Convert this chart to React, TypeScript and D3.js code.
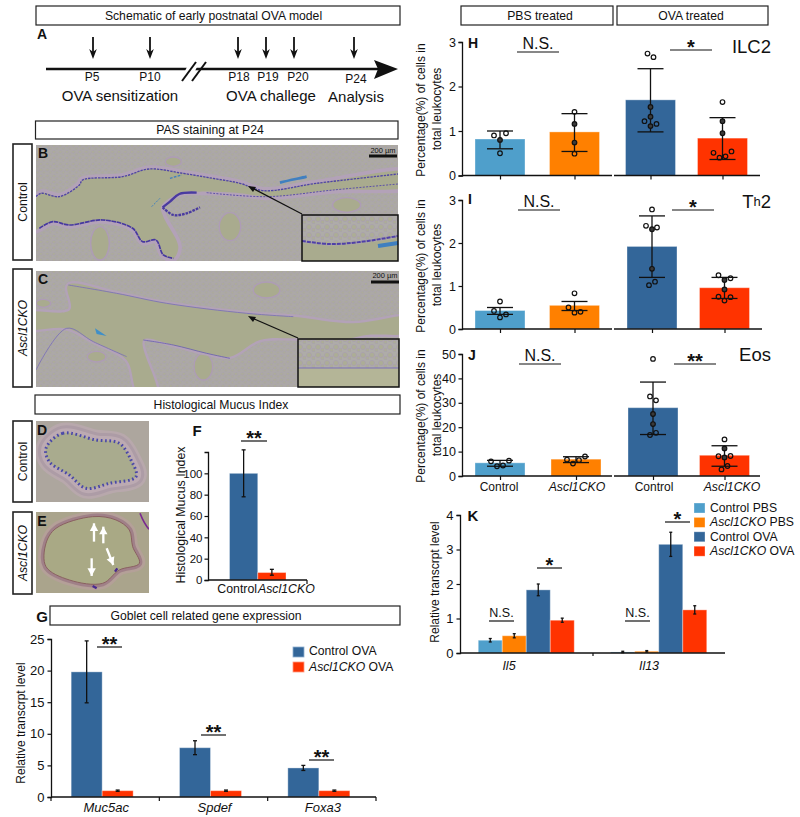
import React, { useEffect, useRef } from 'react';
import * as d3 from 'd3';

const FONT = '"Liberation Sans", Arial, sans-serif';
const LIGHT_BLUE = '#4f9fcb';
const ORANGE = '#ff8000';
const BLUE = '#336699';
const RED = '#ff3300';

// A: timeline
const arrowDays = [93, 150, 238, 266, 294, 354];
const dayLabels = ['P5', 'P10', 'P18', 'P19', 'P20', 'P24'];
const dayLabelX = [92, 150, 239, 268, 298, 356];

// F: mucus index
const mucusGroups = ['Control', 'Ascl1CKO'];
const mucusMeans = [100, 7];
const mucusLow = [78, 4.5];
const mucusHigh = [122, 10];

// G: goblet genes
const gobletGenes = ['Muc5ac', 'Spdef', 'Foxa3'];
const gobletControl = [19.8, 7.8, 4.6];
const gobletControlErr = [4.9, 1.1, 0.4];
const gobletCko = [1, 1, 1];
const gobletCkoErr = [0.1, 0.1, 0.1];

// H, I, J: dot panels
const treatGroups = ['Control PBS', 'Ascl1CKO PBS', 'Control OVA', 'Ascl1CKO OVA'];
const treatColors = [LIGHT_BLUE, ORANGE, BLUE, RED];

const ilc2Means = [0.82, 0.98, 1.7, 0.84];
const ilc2Low = [0.6, 0.54, 0.98, 0.36];
const ilc2High = [1.0, 1.39, 2.4, 1.3];
const ilc2Points = [
  [0.9, 0.95, 0.8, 0.5],
  [1.43, 1.16, 0.74, 0.49],
  [2.74, 2.66, 1.54, 1.32, 1.22, 1.16, 1.11],
  [1.65, 1.22, 0.95, 0.51, 0.4, 0.43, 0.54],
];
const ilc2Jitter = [
  [-6, 6, 0, 0],
  [0, 0, 0, 0],
  [-3, 3, 0, 0, -6, 6, 0],
  [0, 0, 0, -9, -3, 3, 9],
];

const th2Means = [0.43, 0.55, 1.92, 0.96];
const th2Low = [0.34, 0.43, 1.2, 0.71];
const th2High = [0.5, 0.64, 2.63, 1.2];
const th2Points = [
  [0.64, 0.42, 0.34, 0.27],
  [0.83, 0.5, 0.4, 0.38],
  [2.78, 2.4, 2.36, 2.32, 1.4, 1.1, 1.02],
  [1.25, 1.18, 1.14, 0.92, 0.75, 0.74, 0.66],
];
const th2Jitter = [
  [0, -6, 6, 0],
  [0, -6, 6, 0],
  [0, -6, 5, 0, 0, 3, -3],
  [-6, 6, 0, 0, -6, 6, 0],
];

const eosMeans = [5.4, 6.9, 28, 8.5];
const eosLow = [4, 5.5, 17, 4];
const eosHigh = [6.4, 7.9, 38.5, 12.4];
const eosPoints = [
  [6, 6.3, 4, 4.3],
  [6.7, 8, 5.1, 6.5],
  [48, 32.6, 31, 25.4, 21.3, 16.8, 17.7],
  [15, 11.3, 8.1, 7.6, 8.2, 4.1, 2.7],
];
const eosJitter = [
  [-9, 9, -3, 3],
  [-9, 9, -3, 3],
  [0, -3, 3, 0, 0, -3, 3],
  [0, 0, -6, 0, 6, 3, -3],
];

// K: cytokines
const cytokines = ['Il5', 'Il13'];
const cytokineMeans = [
  [0.37, 0.5, 1.83, 0.95],
  [0.03, 0.05, 3.15, 1.25],
];
const cytokineErr = [
  [0.05, 0.06, 0.17, 0.06],
  [0.02, 0.02, 0.35, 0.12],
];

const curve = d3.line().curve(d3.curveCatmullRom.alpha(0.5));
const closed = d3.line().curve(d3.curveCatmullRomClosed.alpha(0.5));

function T({ x, y, size = 12, anchor = 'middle', weight, italic, rotate, children, fill = '#111' }: any) {
  return (
    <text
      x={rotate ? 0 : x}
      y={rotate ? 0 : y}
      transform={rotate ? `translate(${x},${y}) rotate(${rotate})` : undefined}
      fontSize={size}
      fontFamily={FONT}
      textAnchor={anchor}
      dominantBaseline="central"
      fontWeight={weight}
      fontStyle={italic ? 'italic' : undefined}
      fill={fill}
    >
      {children}
    </text>
  );
}

function Box({ x, y, w, h, children, size = 12.2, cx }: any) {
  return (
    <g>
      <rect x={x} y={y} width={w} height={h} fill="#fff" stroke="#222" strokeWidth={1.2} />
      <T x={cx ?? x + w / 2} y={y + h / 2} size={size}>{children}</T>
    </g>
  );
}

function SideBox({ x, y, w, h, italic, children }: any) {
  return (
    <g>
      <rect x={x} y={y} width={w} height={h} fill="#fff" stroke="#222" strokeWidth={1.6} />
      <T x={x + w / 2} y={y + h / 2} size={12.2} rotate={-90} italic={italic}>{children}</T>
    </g>
  );
}

function LeftAxis({ x, scale, ticks, size = 13, pad = 3 }: any) {
  const ref = useRef<SVGGElement>(null);
  useEffect(() => {
    const g = d3.select(ref.current);
    g.call(d3.axisLeft(scale).tickValues(ticks).tickSize(3.5).tickPadding(pad).tickFormat(d3.format('d')));
    g.selectAll('path').attr('stroke', '#111').attr('stroke-width', 1.3);
    g.selectAll('line').attr('stroke', '#111').attr('stroke-width', 1.2);
    g.selectAll('text').attr('font-size', size).attr('font-family', FONT).attr('fill', '#111');
  }, []);
  return <g ref={ref} transform={`translate(${x},0)`} />;
}

function BottomTicks({ y, scale, keys, size }: any) {
  const ref = useRef<SVGGElement>(null);
  useEffect(() => {
    const g = d3.select(ref.current);
    g.call(d3.axisBottom(scale).tickValues(keys).tickSize(size).tickFormat(() => ''));
    g.select('.domain').remove();
    g.selectAll('line').attr('stroke', '#111').attr('stroke-width', 1.2);
  }, []);
  return <g ref={ref} transform={`translate(0,${y})`} />;
}

function ErrBar({ x, y0, y1, cap, w = 1.3 }: any) {
  return (
    <g stroke="#111" strokeWidth={w} fill="none">
      <line x1={x} x2={x} y1={y0} y2={y1} />
      <line x1={x - cap} x2={x + cap} y1={y0} y2={y0} />
      <line x1={x - cap} x2={x + cap} y1={y1} y2={y1} />
    </g>
  );
}

function Sig({ x0, x1, y, label, size = 14, dy = -7 }: any) {
  const star = label.startsWith('*');
  return (
    <g>
      <line x1={x0} x2={x1} y1={y} y2={y} stroke="#111" strokeWidth={1.2} />
      <T x={(x0 + x1) / 2} y={y + (star ? dy + 2 : dy - 2)} size={star ? 20 : size} weight={star ? 'bold' : undefined}>{label}</T>
    </g>
  );
}

function Bar({ x, w, y0, y1, fill }: any) {
  return <rect x={x} y={y1} width={w} height={y0 - y1} fill={fill} stroke="#fff" strokeOpacity={0.35} strokeWidth={1} />;
}

function DotPanel({ top, bottom, max, ticks, centers, means, low, high, points, jitter, letter, letterY, title, titleY, ns, nsY, sig, sigLabel, sigY, line1Y, line2Y, axisRight }: any) {
  const y = d3.scaleLinear().domain([0, max]).range([bottom, top]);
  const x = d3.scaleOrdinal<string, number>().domain(treatGroups).range(centers);
  const barW = 50;
  return (
    <g>
      {treatGroups.map((g, i) => (
        <Bar key={g} x={x(g) - barW / 2} w={barW} y0={y(0)} y1={y(means[i])} fill={treatColors[i]} />
      ))}
      {treatGroups.map((g, i) => (
        <ErrBar key={g} x={x(g)} y0={y(low[i])} y1={y(high[i])} cap={13} />
      ))}
      {treatGroups.map((g, i) =>
        points[i].map((v: number, j: number) => {
          const onLine = jitter[i][j] === 0 && v < high[i] && v > low[i];
          return (
            <circle key={g + j} cx={x(g) + jitter[i][j]} cy={y(v)} r={2.3}
              fill={onLine ? '#3a3a3a' : 'none'} stroke="#111" strokeWidth={1.2} />
          );
        }),
      )}
      <LeftAxis x={462} scale={y} ticks={ticks} size={12.5} pad={2.5} />
      <line x1={462} x2={612} y1={bottom} y2={bottom} stroke="#111" strokeWidth={1.3} />
      <line x1={614} x2={axisRight} y1={bottom} y2={bottom} stroke="#111" strokeWidth={1.3} />
      <BottomTicks y={bottom} scale={x} keys={treatGroups} size={4} />
      <T x={468} y={letterY} size={14} weight="bold" anchor="start">{letter}</T>
      <T x={771} y={titleY} size={18.5} anchor="end">{title}</T>
      <Sig x0={ns} x1={ns + 42} y={nsY} label="N.S." size={16} dy={-7} />
      <Sig x0={sig} x1={sig + 42} y={sigY} label={sigLabel} dy={-5} />
      <T x={421} y={line1Y} size={12} rotate={-90}>Percentage(%) of cells in</T>
      <T x={436.5} y={line2Y} size={12} rotate={-90}>total leukocytes</T>
    </g>
  );
}

function FigF() {
  const y = d3.scaleLinear().domain([0, 120]).range([580, 452]);
  const x = d3.scaleBand().domain(mucusGroups).range([229.5, 286]);
  const w = x.bandwidth();
  return (
    <g>
      {mucusGroups.map((g, i) => (
        <Bar key={g} x={x(g)} w={w} y0={y(0)} y1={y(mucusMeans[i])} fill={i ? RED : BLUE} />
      ))}
      {mucusGroups.map((g, i) => (
        <ErrBar key={g} x={x(g) + w / 2} y0={y(mucusLow[i])} y1={y(mucusHigh[i])} cap={2} />
      ))}
      <LeftAxis x={208} scale={y} ticks={[0, 20, 40, 60, 80, 100]} size={11.5} pad={2} />
      <line x1={208} x2={307} y1={580} y2={580} stroke="#111" strokeWidth={1.3} />
      <line x1={307} x2={307} y1={580} y2={584} stroke="#111" strokeWidth={1.2} />
      <T x={257} y={589} size={12.3} anchor="end">Control</T>
      <T x={258} y={589} size={12.3} anchor="start" italic>Ascl1CKO</T>
      <T x={181} y={515} size={12.4} rotate={-90}>Histological Mucus Index</T>
      <T x={197} y={430} size={15} weight="bold">F</T>
      <Sig x0={241} x1={267} y={441} label="**" dy={-5} />
    </g>
  );
}

function FigG() {
  const y = d3.scaleLinear().domain([0, 25]).range([797, 639]);
  const x = d3.scaleBand().domain(gobletGenes).range([51, 376]);
  const inner = d3.scaleBand().domain(['control', 'cko']).range([-31, 31]);
  const w = inner.bandwidth();
  const mid = (g: string) => x(g) + x.bandwidth() / 2 - 3;
  return (
    <g>
      {gobletGenes.map((g, i) => (
        <g key={g}>
          <Bar x={mid(g) + inner('control')} w={w} y0={y(0)} y1={y(gobletControl[i])} fill={BLUE} />
          <Bar x={mid(g) + inner('cko')} w={w} y0={y(0)} y1={y(gobletCko[i])} fill={RED} />
          <ErrBar x={mid(g) + inner('control') + w / 2} y0={y(gobletControl[i] - gobletControlErr[i])} y1={y(gobletControl[i] + gobletControlErr[i])} cap={2} />
          <ErrBar x={mid(g) + inner('cko') + w / 2} y0={y(gobletCko[i] - gobletCkoErr[i])} y1={y(gobletCko[i] + gobletCkoErr[i])} cap={2} />
          <T x={mid(g) + 4} y={807} size={13} italic>{g}</T>
        </g>
      ))}
      <LeftAxis x={51} scale={y} ticks={[0, 5, 10, 15, 20, 25]} size={13} />
      <line x1={51} x2={376} y1={797} y2={797} stroke="#111" strokeWidth={1.3} />
      {[...gobletGenes.map((g) => x(g)), 376].map((t) => (
        <line key={t} x1={t} x2={t} y1={797} y2={801} stroke="#111" strokeWidth={1.2} />
      ))}
      <T x={21} y={723} size={12} rotate={-90}>Relative transcrpt level</T>
      <Sig x0={97} x1={122} y={647} label="**" dy={-5} />
      <Sig x0={201} x1={226} y={735} label="**" dy={-5} />
      <Sig x0={309} x1={334} y={760} label="**" dy={-5} />
      <rect x={293} y={647} width={11} height={10} fill={BLUE} stroke="#8fb0d0" strokeWidth={0.8} />
      <rect x={293} y={662} width={11} height={10} fill={RED} stroke="#ff9a80" strokeWidth={0.8} />
      <T x={309} y={651} size={12.2} anchor="start">Control OVA</T>
      <text x={309} y={667} fontSize={12.2} fontFamily={FONT} dominantBaseline="central" fill="#111">
        <tspan fontStyle="italic">Ascl1CKO</tspan> OVA
      </text>
    </g>
  );
}

function FigK() {
  const y = d3.scaleLinear().domain([0, 4]).range([653, 515]);
  const x = d3.scaleBand().domain(cytokines).range([460, 725]);
  const inner = d3.scaleBand().domain(treatGroups).range([-48, 48]);
  const w = inner.bandwidth();
  return (
    <g>
      {cytokines.map((c, ci) =>
        treatGroups.map((g, i) => (
          <g key={c + g}>
            <Bar x={x(c) + x.bandwidth() / 2 + inner(g)} w={w} y0={y(0)} y1={y(cytokineMeans[ci][i])} fill={treatColors[i]} />
            <ErrBar x={x(c) + x.bandwidth() / 2 + inner(g) + w / 2}
              y0={y(cytokineMeans[ci][i] - cytokineErr[ci][i])}
              y1={y(cytokineMeans[ci][i] + cytokineErr[ci][i])} cap={1.5} />
          </g>
        )),
      )}
      <LeftAxis x={460} scale={y} ticks={[0, 1, 2, 3, 4]} size={13} />
      <line x1={460} x2={725} y1={653} y2={653} stroke="#111" strokeWidth={1.3} />
      <line x1={593} x2={593} y1={653} y2={656} stroke="#111" strokeWidth={1.2} />
      <T x={509} y={666} size={12.5} italic>{cytokines[0]}</T>
      <T x={649} y={666} size={12.5} italic>{cytokines[1]}</T>
      <T x={435} y={582} size={12} rotate={-90}>Relative transcrpt level</T>
      <T x={473} y={515} size={15} weight="bold">K</T>
      <Sig x0={489} x1={514} y={621} label="N.S." size={12.5} dy={-6} />
      <Sig x0={537} x1={562} y={568} label="*" dy={-5} />
      <Sig x0={625} x1={650} y={621} label="N.S." size={12.5} dy={-6} />
      <Sig x0={665} x1={690} y={522} label="*" dy={-5} />
      {treatGroups.map((g, i) => {
        const [a, b] = g.split(' ');
        const ly = 508 + i * 14.4;
        return (
          <g key={g}>
            <rect x={694} y={ly - 5} width={11} height={10} fill={treatColors[i]} stroke="#fff" strokeOpacity={0.4} strokeWidth={0.8} />
            <text x={710} y={ly} fontSize={12.2} fontFamily={FONT} dominantBaseline="central" fill="#111">
              <tspan fontStyle={a === 'Ascl1CKO' ? 'italic' : undefined}>{a}</tspan> {b}
            </text>
          </g>
        );
      })}
    </g>
  );
}

// micrograph outlines, traced in the 3x crop coordinates
const bLumen = [[90, 645], [123, 580], [178, 590], [238, 555], [248, 540], [368, 530], [448, 507], [548, 520], [638, 535], [720, 550], [790, 572], [950, 550], [1240, 518], [1240, 555], [1000, 570], [800, 590], [720, 580], [600, 575], [538, 580], [483, 620], [490, 650], [535, 740], [520, 775], [490, 765], [468, 720], [428, 725], [398, 685], [308, 660], [208, 675], [158, 665], [118, 685], [90, 695]];
const bUpper = [[108, 590], [123, 580], [178, 590], [238, 555], [248, 540], [368, 530], [448, 507], [548, 520], [638, 535], [720, 550], [790, 572], [950, 550], [1195, 522]];
const bLower = [[118, 685], [158, 665], [208, 675], [308, 660], [398, 685], [428, 725], [468, 720], [490, 765], [520, 775]];
const bMid = [[620, 578], [800, 590], [1000, 570], [1195, 552]];
const bFold = [[488, 622], [510, 605], [538, 582], [590, 578]];
const bFold2 = [[488, 622], [520, 645], [560, 640], [600, 622]];
const bVessels = [[690, 680, 32, 42], [1040, 615, 42, 22], [520, 485, 24, 14], [300, 730, 28, 50]];
const cLumen = [[205, 75], [350, 100], [500, 130], [740, 160], [880, 170], [1060, 190], [1240, 172], [1240, 215], [1100, 225], [1020, 240], [880, 235], [780, 240], [690, 290], [620, 280], [520, 255], [430, 240], [470, 400], [415, 400], [380, 300], [280, 245], [200, 205], [70, 205], [70, 160], [210, 150]];
const cUpper = [[205, 75], [350, 100], [500, 130], [740, 160], [880, 170]];
const cLower = [[108, 330], [200, 205], [280, 245], [380, 290]];
const cLower2 = [[430, 240], [520, 255], [620, 280], [690, 295]];
const cVessels = [[290, 290, 28, 16], [610, 320, 28, 40], [800, 90, 40, 24], [130, 130, 22, 12]];
const dLumen = [[138, 565], [188, 520], [288, 540], [358, 550], [393, 600], [408, 650], [328, 670], [258, 685], [208, 645], [148, 605]];
const eLumen = [[138, 850], [168, 805], [278, 770], [348, 780], [388, 810], [398, 860], [418, 910], [358, 930], [308, 970], [208, 960], [138, 920]];
const eArrows = [[282, 845, 282, 790], [310, 850, 310, 800], [320, 865, 340, 915], [275, 895, 275, 948]];

const OLIVE = '#a9ab8e';

function Micrographs() {
  return (
    <g>
      <defs>
        <pattern id="alv" width="6.5" height="6" patternUnits="userSpaceOnUse">
          <rect width="6.5" height="6" fill="#aca9a6" />
          <circle cx="1.8" cy="1.8" r="1.5" fill="#acad98" stroke="#a69cb4" strokeWidth="0.45" />
          <circle cx="5" cy="4.4" r="1.3" fill="#acad98" stroke="#a69cb4" strokeWidth="0.45" />
        </pattern>
        <pattern id="alv2" width="9" height="8" patternUnits="userSpaceOnUse">
          <rect width="9" height="8" fill="#aeaca8" />
          <circle cx="3" cy="3" r="2.6" fill="#acad96" stroke="#a698b6" strokeWidth="0.5" />
          <circle cx="7.5" cy="6" r="1.8" fill="#acad96" stroke="#a698b6" strokeWidth="0.5" />
        </pattern>
        <filter id="soft" x="0" y="0" width="1" height="1"><feGaussianBlur stdDeviation="0.4" /></filter>
        <clipPath id="clipB"><rect x={36} y={145} width={362} height={116} /></clipPath>
        <clipPath id="clipC"><rect x={36} y={271} width={363} height={116} /></clipPath>
        <clipPath id="clipD"><rect x={36} y={421} width={113} height={81} /></clipPath>
        <clipPath id="clipE"><rect x={36} y={512} width={113} height={81} /></clipPath>
      </defs>

      {/* B */}
      <g clipPath="url(#clipB)">
        <g filter="url(#soft)">
          <rect x={36} y={145} width={362} height={116} fill="url(#alv)" />
          <g transform="scale(0.3333)">
            {bVessels.map(([cx, cy, rx, ry]) => (
              <ellipse key={cx} cx={cx} cy={cy} rx={rx} ry={ry} fill={OLIVE} stroke="#ae9cb6" strokeWidth={4} />
            ))}
            <path d={closed(bLumen)} fill="none" stroke="#b3a2b8" strokeWidth={22} />
            <path d={closed(bLumen)} fill={OLIVE} />
            <path d={curve(bUpper)} fill="none" stroke="#4f44a4" strokeWidth={4} strokeDasharray="7 3" />
            <path d={curve(bLower)} fill="none" stroke="#4638a0" strokeWidth={5} strokeDasharray="14 2" />
            <path d={curve(bMid)} fill="none" stroke="#5b4fa8" strokeWidth={3} strokeDasharray="6 4" />
            <path d={curve(bFold)} fill="none" stroke="#4a3aa0" strokeWidth={7} />
            <path d={curve(bFold2)} fill="none" stroke="#4a3aa0" strokeWidth={7} strokeDasharray="8 3" />
            <path d="M840,548 C870,540 900,535 920,530" fill="none" stroke="#3f7fc0" strokeWidth={8} />
            <path d="M510,535 L545,525" fill="none" stroke="#3f7fc0" strokeWidth={4} strokeDasharray="8 4" />
            <path d="M455,620 L480,595" fill="none" stroke="#3f7fc0" strokeWidth={3} strokeDasharray="6 4" />
          </g>
        </g>
      </g>
      <T x={383} y={150} size={7.5}>200 µm</T>
      <line x1={369} x2={397} y1={156} y2={156} stroke="#111" strokeWidth={3} />
      <T x={43} y={153} size={14} weight="bold">B</T>
      <rect x={302} y={215} width={96} height={46} fill="url(#alv2)" />
      <path d="M302,243 L330,246 L360,244 L398,238 L398,261 L302,261 Z" fill={OLIVE} />
      <path d={curve([[302, 241], [330, 244], [360, 242], [398, 236]])} fill="none" stroke="#5040a8" strokeWidth={2} strokeDasharray="4 1" />
      <path d="M378,246 L398,243" stroke="#3f7fc0" strokeWidth={4} fill="none" />
      <rect x={302} y={215} width={96} height={46} fill="none" stroke="#111" strokeWidth={1.5} />
      <line x1={302} y1={214} x2={252} y2={188} stroke="#111" strokeWidth={1.2} />
      <path d="M248,186 L256,187 L253,192 Z" fill="#111" />

      {/* C */}
      <g clipPath="url(#clipC)">
        <g filter="url(#soft)">
          <rect x={36} y={271} width={363} height={116} fill="url(#alv)" />
          <g transform="translate(0,260) scale(0.3333)">
            {cVessels.map(([cx, cy, rx, ry]) => (
              <ellipse key={cx} cx={cx} cy={cy} rx={rx} ry={ry} fill={OLIVE} stroke="#ae9cb6" strokeWidth={4} />
            ))}
            <path d={closed(cLumen)} fill="none" stroke="#b3a2b8" strokeWidth={14} />
            <path d={closed(cLumen)} fill={OLIVE} />
            <path d={curve(cUpper)} fill="none" stroke="#7a6fb8" strokeWidth={2.5} />
            <path d={curve(cLower)} fill="none" stroke="#7a6fb8" strokeWidth={2.5} />
            <path d={curve(cLower2)} fill="none" stroke="#6a60b0" strokeWidth={2.5} />
            <path d="M285,205 L320,228 L290,222 Z" fill="#3f8fc8" />
          </g>
        </g>
      </g>
      <T x={385} y={275} size={7.5}>200 µm</T>
      <line x1={371} x2={399} y1={282} y2={282} stroke="#111" strokeWidth={3} />
      <T x={43} y={279} size={14} weight="bold">C</T>
      <rect x={298} y={339} width={101} height={48} fill="url(#alv2)" />
      <rect x={298} y={368} width={101} height={19} fill="#b4b597" />
      <line x1={298} x2={399} y1={368} y2={368} stroke="#7a70b8" strokeWidth={1.2} />
      <rect x={298} y={339} width={101} height={48} fill="none" stroke="#111" strokeWidth={1.5} />
      <line x1={298} y1={338} x2={252} y2={318} stroke="#111" strokeWidth={1.2} />
      <path d="M248,316 L256,317 L253,322 Z" fill="#111" />

      {/* D */}
      <g clipPath="url(#clipD)">
        <g filter="url(#soft)">
          <rect x={36} y={421} width={113} height={81} fill="#ada69e" />
          <g transform="translate(0,260) scale(0.3333)">
            <path d={closed(dLumen)} fill="none" stroke="#b8a8ac" strokeWidth={62} />
            <path d={closed(dLumen)} fill="none" stroke="#ad9ca6" strokeWidth={46} />
            <path d={closed(dLumen)} fill="none" stroke="#bcaab2" strokeWidth={28} />
            <path d={closed(dLumen)} fill={OLIVE} />
            <path d={closed(dLumen)} fill="none" stroke="#4a48a8" strokeWidth={9} strokeDasharray="5 8" />
          </g>
        </g>
      </g>
      <T x={42} y={430} size={14} weight="bold">D</T>

      {/* E */}
      <g clipPath="url(#clipE)">
        <g filter="url(#soft)">
          <rect x={36} y={512} width={113} height={81} fill="#aaa48c" />
          <g transform="translate(0,260) scale(0.3333)">
            <path d={closed(eLumen)} fill="none" stroke="#b4a098" strokeWidth={34} />
            <path d={closed(eLumen)} fill="none" stroke="#a08088" strokeWidth={18} />
            <path d={closed(eLumen)} fill="#a9a985" />
            <path d={closed(eLumen)} fill="none" stroke="#8a6060" strokeWidth={3} />
            <path d="M420,760 C430,785 440,800 447,808" fill="none" stroke="#7a2a90" strokeWidth={5} />
            <path d="M345,935 L352,925 M278,978 L290,985" fill="none" stroke="#4a2a90" strokeWidth={7} />
          </g>
        </g>
      </g>
      <g transform="translate(0,260) scale(0.3333)">
        {eArrows.map(([x1, y1, x2, y2], i) => {
          const a = Math.atan2(y2 - y1, x2 - x1);
          const h = (da: number) => `${x2 - 26 * Math.cos(a + da)},${y2 - 26 * Math.sin(a + da)}`;
          return (
            <g key={i}>
              <line x1={x1} y1={y1} x2={x2} y2={y2} stroke="#fff" strokeWidth={7} />
              <path d={`M${x2},${y2} L${h(0.5)} L${h(-0.5)} Z`} fill="#fff" />
            </g>
          );
        })}
      </g>
      <T x={42} y={521} size={14} weight="bold">E</T>
    </g>
  );
}

export default function App() {
  return (
    <svg width={800} height={817} style={{ position: 'absolute', left: 0, top: 0, background: '#fff' }}>
      {/* A */}
      <Box x={36} y={6} w={364} h={19} cx={213.5}>Schematic of  early postnatal OVA model</Box>
      <T x={42} y={34} size={14} weight="bold">A</T>
      {arrowDays.map((d, i) => (
        <g key={d}>
          <line x1={d} x2={d} y1={37} y2={54} stroke="#111" strokeWidth={1.8} />
          <path d={`M${d - 3.8},${49} L${d},${59} L${d + 3.8},${49} L${d},${52} Z`} fill="#111" />
          <T x={dayLabelX[i]} y={i === 5 ? 79 : 77} size={12}>{dayLabels[i]}</T>
        </g>
      ))}
      <line x1={46} x2={378} y1={69} y2={69} stroke="#111" strokeWidth={2.5} />
      <path d="M374,60 L398,69 L374,79 L378,69 Z" fill="#111" />
      <path d="M189,63 L199,63 L190,81 L180,81 Z" fill="#fff" />
      <line x1={182} y1={81} x2={196} y2={62} stroke="#111" strokeWidth={2} />
      <line x1={192} y1={81} x2={206} y2={62} stroke="#111" strokeWidth={2} />
      <T x={120} y={95} size={15}>OVA sensitization</T>
      <T x={271} y={95} size={15}>OVA challege</T>
      <T x={356} y={96} size={15}>Analysis</T>

      <Box x={35.5} y={121} w={362.5} h={18} cx={210}>PAS staining at P24</Box>
      <SideBox x={13} y={144} w={19} h={116}>Control</SideBox>
      <SideBox x={13} y={269} w={19} h={118} italic>Ascl1CKO</SideBox>
      <Box x={35} y={395} w={365} h={19} cx={221}>Histological Mucus Index</Box>
      <SideBox x={13} y={421} w={19} h={81}>Control</SideBox>
      <SideBox x={13} y={512} w={19} h={82} italic>Ascl1CKO</SideBox>
      <Micrographs />

      <FigF />

      <Box x={50} y={606} w={350} h={19} cx={206}>Goblet cell related gene expression</Box>
      <T x={42} y={616} size={15} weight="bold">G</T>
      <FigG />

      {/* H-J */}
      <Box x={461} y={6} w={152} h={19} cx={540}>PBS treated</Box>
      <Box x={617} y={6} w={151} h={19} cx={691}>OVA treated</Box>
      <DotPanel top={42} bottom={175.5} max={3} ticks={[0, 1, 2, 3]} centers={[500, 574.5, 650.5, 722.5]}
        means={ilc2Means} low={ilc2Low} high={ilc2High} points={ilc2Points} jitter={ilc2Jitter}
        letter="H" letterY={43} title="ILC2" titleY={46} ns={517} nsY={52} sig={670} sigLabel="*" sigY={50}
        line1Y={110} line2Y={109} axisRight={760} />
      <DotPanel top={200} bottom={329} max={3} ticks={[0, 1, 2, 3]} centers={[500, 574.5, 652, 724.5]}
        means={th2Means} low={th2Low} high={th2High} points={th2Points} jitter={th2Jitter}
        letter="I" letterY={199} title={<>T<tspan fontSize={13}>h</tspan>2</>} titleY={201} ns={518} nsY={210} sig={672} sigLabel="*" sigY={210}
        line1Y={266} line2Y={265} axisRight={762} />
      <DotPanel top={354} bottom={476} max={50} ticks={[0, 10, 20, 30, 40, 50]} centers={[500, 576, 653, 724.5]}
        means={eosMeans} low={eosLow} high={eosHigh} points={eosPoints} jitter={eosJitter}
        letter="J" letterY={355} title="Eos" titleY={354} ns={519} nsY={364} sig={674} sigLabel="**" sigY={364}
        line1Y={416} line2Y={415} axisRight={760} />
      <T x={499} y={487} size={12}>Control</T>
      <T x={577} y={487} size={12.3} italic>Ascl1CKO</T>
      <T x={654} y={487} size={12}>Control</T>
      <T x={732} y={487} size={12.3} italic>Ascl1CKO</T>

      <FigK />
    </svg>
  );
}
